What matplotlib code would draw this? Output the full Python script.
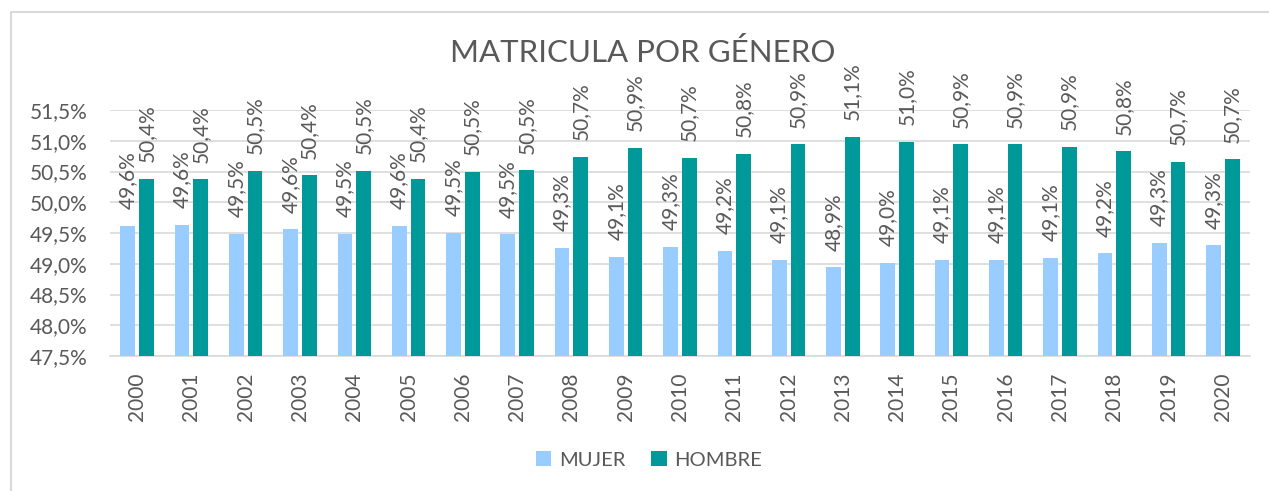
import numpy as np
import matplotlib.pyplot as plt
from matplotlib.lines import Line2D
from matplotlib.ticker import FuncFormatter

plt.rcParams['font.family'] = ['Lato', 'DejaVu Sans']

# enrolment share by gender (%)
years = [str(y) for y in range(2000, 2021)]
mujer = [49.62, 49.63, 49.49, 49.56, 49.49, 49.62, 49.50, 49.48, 49.26, 49.11, 49.28,
         49.21, 49.06, 48.94, 49.02, 49.06, 49.06, 49.10, 49.17, 49.34, 49.30]
hombre = [50.38, 50.37, 50.51, 50.44, 50.51, 50.38, 50.50, 50.52, 50.74, 50.89, 50.72,
          50.79, 50.94, 51.06, 50.98, 50.94, 50.94, 50.90, 50.83, 50.66, 50.70]

c_m = "#99CCFF"
c_h = "#009999"
grey = "#595959"

fig = plt.figure(figsize=(12.69, 4.91), dpi=100)
ax = fig.add_axes([110 / 1269, 1 - 356 / 491, 1140 / 1269, 246 / 491])

x = np.arange(len(years))
w = 0.27
off = 0.172
bm = ax.bar(x - off, mujer, w, color=c_m, label="MUJER", zorder=3)
bh = ax.bar(x + off, hombre, w, color=c_h, label="HOMBRE", zorder=3)


def pct(v):
    return ("%.1f%%" % v).replace(".", ",")


for bars, vals in ((bm, mujer), (bh, hombre)):
    for b, v in zip(bars, vals):
        ax.annotate(pct(v), (b.get_x() + b.get_width() / 2, v),
                    xytext=(0, 12), textcoords="offset points",
                    rotation=90, ha="center", va="bottom",
                    fontsize=15, color=grey, annotation_clip=False)

ax.set_ylim(47.5, 51.5)
ax.set_xlim(-0.5, len(years) - 0.5)
ax.set_yticks(np.arange(47.5, 51.51, 0.5))
ax.yaxis.set_major_formatter(FuncFormatter(lambda v, p: ("%.1f%%" % v).replace(".", ",")))
ax.set_xticks(x)
ax.set_xticklabels(years, rotation=90)
ax.tick_params(axis="both", length=0, labelsize=15, colors=grey)
ax.tick_params(axis="x", pad=12)
ax.tick_params(axis="y", pad=16)
ax.grid(axis="y", color="#D9D9D9", linewidth=1.2, zorder=0)
for s in ("top", "right", "left"):
    ax.spines[s].set_visible(False)
ax.spines["bottom"].set_color("#D9D9D9")
ax.spines["bottom"].set_linewidth(1.2)

fig.text(643 / 1269, 1 - 53 / 491, "MATRICULA POR GÉNERO", ha="center", va="center",
         fontsize=22.5, color=grey)

fig.legend(handles=[bm, bh], loc="center", bbox_to_anchor=(649 / 1269, 1 - 460 / 491),
           ncol=2, frameon=False, fontsize=14.5, labelcolor=grey,
           handlelength=0.75, handleheight=0.75, handletextpad=0.4, columnspacing=1.3)

# outer frame (top and left edges)
fig.add_artist(Line2D([10.5 / 1269, 10.5 / 1269, 1], [0, 1 - 11.5 / 491, 1 - 11.5 / 491],
                      color="#D9D9D9", linewidth=1.5, transform=fig.transFigure))

fig.savefig("out.png", dpi=100)
